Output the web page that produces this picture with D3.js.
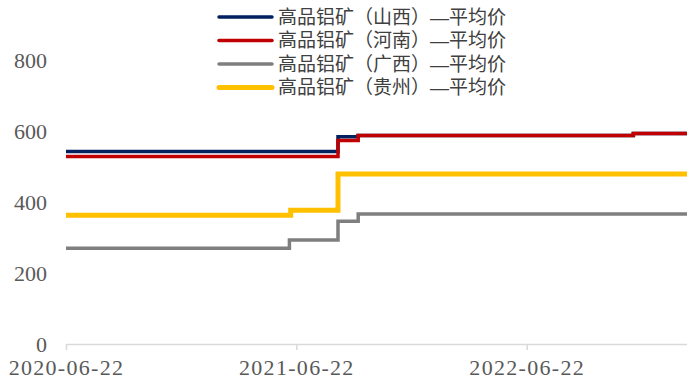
<!DOCTYPE html>
<html>
<head>
<meta charset="utf-8">
<script src="https://cdn.jsdelivr.net/npm/d3@7/dist/d3.min.js"></script>
<style>
  body { margin: 0; background: #fff; }
  .tick text { font-family: "Liberation Serif", serif; font-size: 22px; fill: #595959; }
  .legend text { font-family: "Liberation Sans", "Noto Sans CJK SC", sans-serif; font-size: 19px; fill: #404040; }
</style>
</head>
<body>
<div id="vis"></div>
<script>
// step series: each entry is [date where the price starts, price]
var names = ["高品铝矿（山西）—平均价", "高品铝矿（河南）—平均价", "高品铝矿（广西）—平均价", "高品铝矿（贵州）—平均价"],
    colors = ["#002060", "#C00000", "#7F7F7F", "#FFC000"],
    widths = [3.5, 3.5, 3.5, 5],
    shanxi = [["2020-06-22", 542], ["2021-08-27", 584], ["2021-09-28", 587], ["2022-12-08", 593], ["2023-03-03", 593]],
    henan = [["2020-06-22", 528], ["2021-08-27", 573], ["2021-09-28", 587], ["2022-12-08", 593], ["2023-03-03", 593]],
    guangxi = [["2020-06-22", 270], ["2021-06-11", 293], ["2021-08-27", 346], ["2021-09-28", 366], ["2023-03-03", 366]],
    guizhou = [["2020-06-22", 363], ["2021-06-13", 377], ["2021-08-27", 479], ["2023-03-03", 479]],
    xTicks = ["2020-06-22", "2021-06-22", "2022-06-22"],
    yTicks = [0, 200, 400, 600, 800];

var w = 687, h = 380;
var parse = d3.timeParse("%Y-%m-%d");
var series = [shanxi, henan, guangxi, guizhou];

var x = d3.scaleTime().domain([parse("2020-06-22"), parse("2023-03-03")]).range([66, 687]);
var y = d3.scaleLinear().domain([0, 800]).range([344, 60]);

var svg = d3.select("#vis").append("svg")
    .attr("width", w)
    .attr("height", h);

// x axis
var xAxis = svg.append("g")
    .attr("transform", "translate(0," + y(0) + ")")
    .call(d3.axisBottom(x).tickValues(xTicks.map(parse)).tickFormat(d3.timeFormat("%Y-%m-%d")).tickSizeInner(6).tickSizeOuter(0));
xAxis.select(".domain").attr("stroke", "#d9d9d9").attr("stroke-width", 1.5);
xAxis.selectAll(".tick line").attr("stroke", "#d9d9d9").attr("stroke-width", 1.5);
xAxis.selectAll(".tick text")
    .attr("y", 31)
    .attr("dy", 0)
    .attr("letter-spacing", 1.3);

// y axis (labels only)
var yAxis = svg.append("g")
    .attr("transform", "translate(47,0)")
    .call(d3.axisLeft(y).tickValues(yTicks).tickSize(0).tickPadding(0));
yAxis.select(".domain").remove();
yAxis.selectAll(".tick text").attr("dy", "0.34em");

var line = d3.line()
    .x(function(d) { return x(parse(d[0])); })
    .y(function(d) { return y(d[1]); })
    .curve(d3.curveStepAfter);

// draw in order, later ones on top
series.forEach(function(s, i) {
    svg.append("path")
        .datum(s)
        .attr("fill", "none")
        .attr("stroke", colors[i])
        .attr("stroke-width", widths[i])
        .attr("d", line);
});

// legend
var legend = svg.append("g").attr("class", "legend");
names.forEach(function(n, i) {
    var ly = 17 + i * 23.5;
    legend.append("line")
        .attr("x1", 219).attr("x2", 272)
        .attr("y1", ly).attr("y2", ly)
        .attr("stroke", colors[i])
        .attr("stroke-width", widths[i])
        .attr("stroke-linecap", "round");
    legend.append("text")
        .attr("x", 278).attr("y", ly)
        .attr("dy", "0.36em")
        .text(n);
});
</script>
</body>
</html>
